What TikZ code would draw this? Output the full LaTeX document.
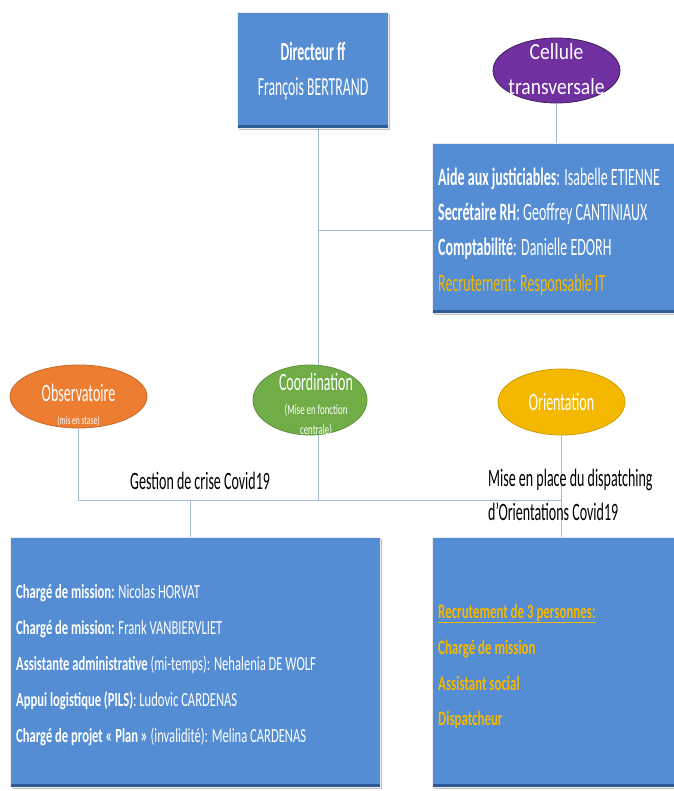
\documentclass[tikz,border=0pt]{standalone}
\usepackage{fontspec}
\setmainfont{Carlito}
\newfontfamily\fa[FakeStretch=0.53]{Carlito}
\newfontfamily\fb[FakeStretch=0.56]{Carlito}
\newfontfamily\fc[FakeStretch=0.63]{Carlito}
\newfontfamily\fd[FakeStretch=0.85]{Carlito}
\newcommand\sz[1]{\fontsize{#1}{#1}\selectfont}
\usetikzlibrary{shapes.geometric,shadows,backgrounds}
\definecolor{boxblue}{HTML}{548DD4}
\definecolor{boxdark}{HTML}{2F5A94}
\definecolor{gold}{HTML}{F5B800}
\definecolor{orgcol}{HTML}{ED7D31}
\definecolor{grncol}{HTML}{70AD47}
\definecolor{purcol}{HTML}{7030A0}
\definecolor{linecol}{HTML}{A3B9D8}
\tikzset{
  box/.style={rectangle, fill=boxblue, draw=white!85!gray, line width=0.8pt, inner sep=0,
    drop shadow={shadow xshift=2pt, shadow yshift=-2pt, fill=black, opacity=0.25},
    path picture={\fill[boxdark] (path picture bounding box.south west) rectangle ([yshift=3pt]path picture bounding box.south east);}},
  oval/.style={ellipse, inner sep=0, line width=0.8pt},
  txt/.style={inner sep=0, text=white},
  conn/.style={draw=linecol, line width=0.9pt},
}
\begin{document}
\begin{tikzpicture}[x=1pt,y=-1pt]
\useasboundingbox (0,0) rectangle (673,791);
% boxes
\node[box, minimum width=151, minimum height=116] (dir) at (312.5,70) {};
\node[box, minimum width=258, minimum height=170] (rbox) at (561,228) {};
\node[box, minimum width=370, minimum height=250] (lbox) at (195,662) {};
\node[box, minimum width=258, minimum height=250] (bbox) at (561,662) {};
% ellipses
\node[oval, fill=purcol, draw=purcol!60!black, minimum width=127, minimum height=65] (cell) at (556.5,70.5) {};
\node[oval, fill=orgcol, draw=orgcol!85!black, minimum width=137, minimum height=63] (obs) at (78.5,396.5) {};
\node[oval, fill=grncol, draw=grncol!85!black, minimum width=114, minimum height=70] (coord) at (310,400) {};
\node[oval, fill=gold, draw=gold!85!black, minimum width=127, minimum height=66] (orient) at (561.5,402) {};
% connectors
\coordinate (vx) at (318,0);
\coordinate (j1) at (318,230);
\coordinate (j2) at (318,500);
\coordinate (j4) at (190,500);
\begin{scope}[on background layer]
\fill[white] (0,0) rectangle (673,791);
\draw[conn] (dir.south -| vx) -- (coord.north -| vx);
\draw[conn] (j1) -- (rbox.west |- j1);
\draw[conn] (cell.south) -- (rbox.north -| cell.south);
\draw[conn] (obs.south) |- (j2);
\draw[conn] (coord.south -| vx) -- (j2);
\draw[conn] (j2) -- (orient.south |- j2);
\draw[conn] (orient.south) -- (bbox.north -| orient.south);
\draw[conn] (j4) -- (lbox.north -| j4);
\end{scope}
% texts
\node[txt, anchor=base] (dir1) at (313,61) {\fa\sz{26}\bfseries Directeur ff};
\node[txt, anchor=base] (dir2) at (313,96) {\fa\sz{26}François BERTRAND};
\node[txt, anchor=base] (cell1) at (556.5,60) {\fd\sz{23}Cellule};
\node[txt, anchor=base] (cell2) at (556.5,95) {\fd\sz{23}transversale};
\node[txt, anchor=base west] (r1) at (438,186) {\fb\sz{25}{\bfseries Aide aux justiciables}: Isabelle ETIENNE};
\node[txt, anchor=base west] (r2) at (438,221) {\fb\sz{25}{\bfseries Secrétaire RH}: Geoffrey CANTINIAUX};
\node[txt, anchor=base west] (r3) at (438,256) {\fb\sz{25}{\bfseries Comptabilité}: Danielle EDORH};
\node[txt, anchor=base west, text=gold] (r4) at (438,291) {\fb\sz{25}Recrutement: Responsable IT};
\node[txt, anchor=base] (obs1) at (78.5,401) {\fb\sz{25}Observatoire};
\node[txt, anchor=base] (obs2) at (78.5,424) {\fc\sz{12}(mis en stase)};
\node[txt, anchor=base] (co1) at (316,390) {\fb\sz{25}Coordination};
\node[txt, anchor=base] (co2) at (316,414) {\fc\sz{14}(Mise en fonction};
\node[txt, anchor=base] (co3) at (316,434) {\fc\sz{14}centrale)};
\node[txt, anchor=base] (or1) at (561.5,410) {\fb\sz{25}Orientation};
\node[txt, anchor=base west, text=black] (g1) at (130,489) {\fb\sz{25}Gestion de crise Covid19};
\node[txt, anchor=base west, text=black] (m1) at (488,486) {\fb\sz{25}Mise en place du dispatching};
\node[txt, anchor=base west, text=black] (m2) at (488,520) {\fb\sz{25}d’Orientations Covid19};
\node[txt, anchor=base west] (l1) at (16,598) {\fc\sz{20}{\bfseries Chargé de mission:} Nicolas HORVAT};
\node[txt, anchor=base west] (l2) at (16,634) {\fc\sz{20}{\bfseries Chargé de mission:} Frank VANBIERVLIET};
\node[txt, anchor=base west] (l3) at (16,670) {\fc\sz{20}{\bfseries Assistante administrative} (mi-temps): Nehalenia DE WOLF};
\node[txt, anchor=base west] (l4) at (16,706) {\fc\sz{20}{\bfseries Appui logistique (PILS)}: Ludovic CARDENAS};
\node[txt, anchor=base west] (l5) at (16,742) {\fc\sz{20}{\bfseries Chargé de projet « Plan »} (invalidité): Melina CARDENAS};
\node[txt, anchor=base west, text=gold] (b1) at (438,618) {\fc\sz{20.5}\bfseries\underline{Recrutement de 3 personnes:}};
\node[txt, anchor=base west, text=gold] (b2) at (438,654) {\fc\sz{20.5}\bfseries Chargé de mission};
\node[txt, anchor=base west, text=gold] (b3) at (438,690) {\fc\sz{20.5}\bfseries Assistant social};
\node[txt, anchor=base west, text=gold] (b4) at (438,725) {\fc\sz{20.5}\bfseries Dispatcheur};
\end{tikzpicture}
\end{document}
